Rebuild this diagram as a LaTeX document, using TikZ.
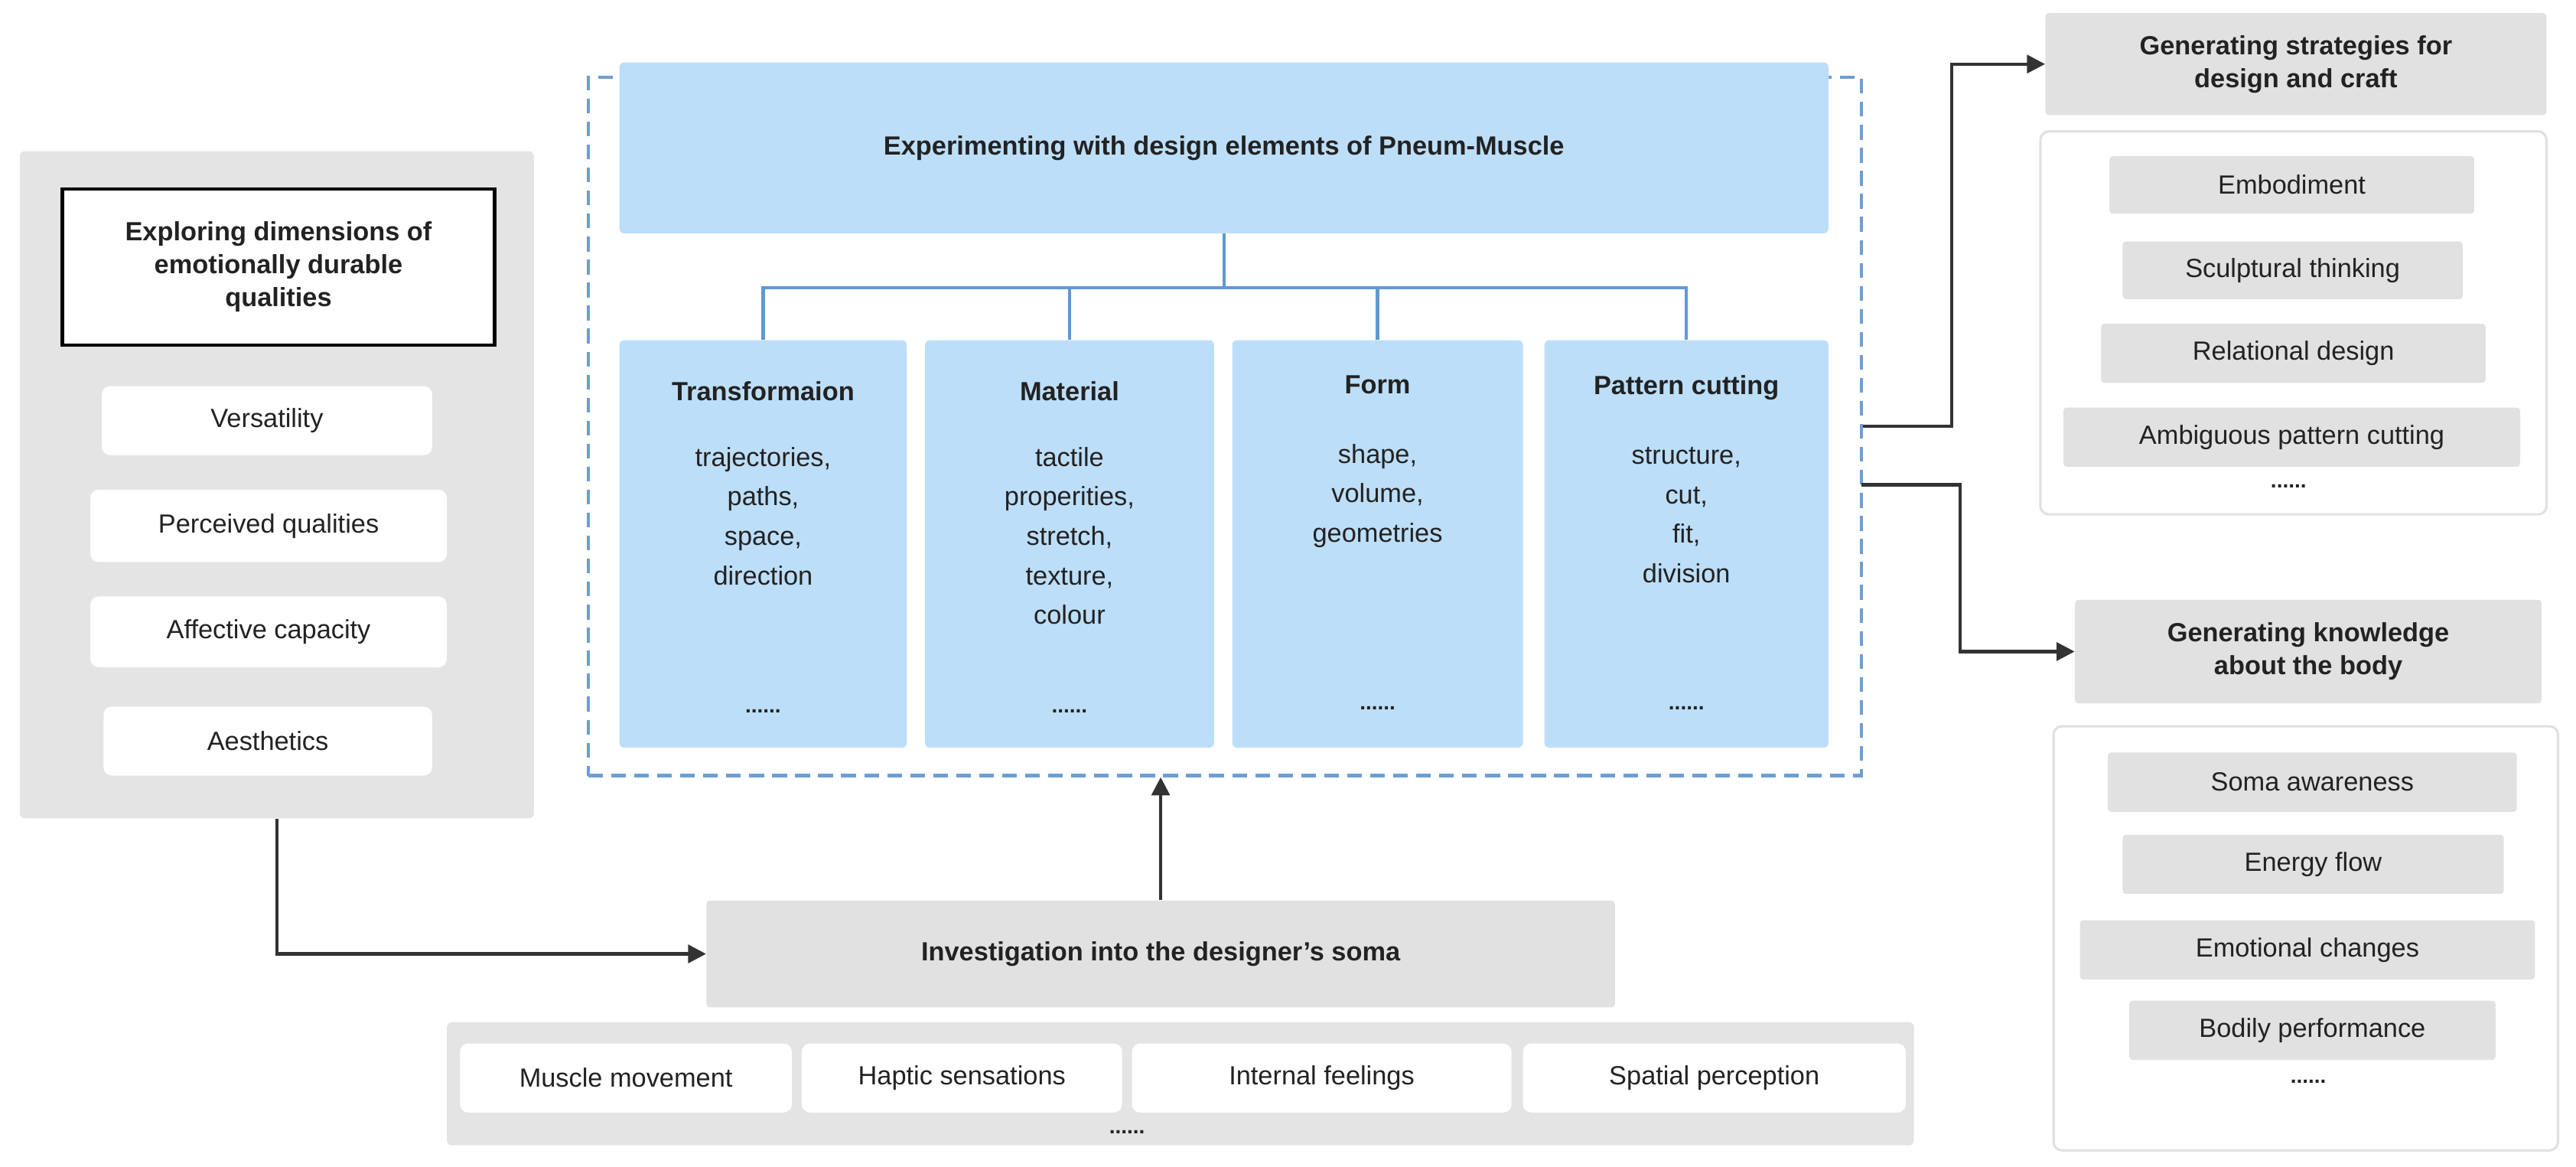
\documentclass[tikz,border=0pt]{standalone}
\usepackage{fontspec}
\setmainfont{Liberation Sans}
\usetikzlibrary{arrows.meta}
\definecolor{gp}{HTML}{E4E4E4}
\definecolor{gi}{HTML}{E1E1E1}
\definecolor{bl}{HTML}{BDDEF8}
\definecolor{db}{HTML}{6D9ED3}
\definecolor{tl}{HTML}{5E9AD2}
\definecolor{ln}{HTML}{333333}
\definecolor{tx}{HTML}{222222}
\begin{document}
\begin{tikzpicture}[x=1pt,y=-1pt,
  every node/.style={font=\fontsize{16}{20}\selectfont,text=tx,align=center,inner sep=0pt},
  panel/.style={fill=gp,draw=none,rounded corners=3pt},
  wi/.style={fill=white,draw=none,rounded corners=5pt},
  wp/.style={fill=white,draw=gi,line width=1.5pt,rounded corners=5pt},
  gb/.style={fill=gi,draw=none,rounded corners=2pt},
  bb/.style={fill=bl,draw=none,rounded corners=3pt},
  bt/.style={font=\fontsize{16}{20}\selectfont\bfseries},
  dots/.style={font=\fontsize{13}{14}\selectfont\bfseries},
  arr/.style={draw=ln,line width=2pt,-{Triangle[length=11pt,width=11pt]}},
  tree/.style={draw=tl,line width=2pt}]
\useasboundingbox (0,0) rectangle (1568,710);
% left
\node[panel,minimum width=313,minimum height=406] (lp) at (168.5,295) {};
\node[fill=white,draw=black,line width=2pt,minimum width=263,minimum height=95,bt] (lt) at (169.5,162.5) {Exploring dimensions of\\emotionally durable\\qualities};
\node[wi,minimum width=201,minimum height=42] (l1) at (162.5,256) {Versatility};
\node[wi,minimum width=217,minimum height=44] (l2) at (163.5,320) {Perceived qualities};
\node[wi,minimum width=217,minimum height=43] (l3) at (163.5,384.5) {Affective capacity};
\node[wi,minimum width=200,minimum height=42] (l4) at (163,451) {Aesthetics};
% center
\node[draw=db,dashed,dash pattern=on 9pt off 5pt,line width=2pt,minimum width=775,minimum height=425] (dash) at (745.5,259.5) {};
\node[bb,minimum width=736,minimum height=104,bt] (top) at (745,90) {Experimenting with design elements of Pneum-Muscle};
\node[bb,minimum width=175,minimum height=248] (b1) at (464.5,331) {};
\node[bb,minimum width=176,minimum height=248] (b2) at (651,331) {};
\node[bb,minimum width=177,minimum height=248] (b3) at (838.5,331) {};
\node[bb,minimum width=173,minimum height=248] (b4) at (1026.5,331) {};
\node[bt] (t1) at (464.5,238) {Transformaion};
\node[bt] (t2) at (651,238) {Material};
\node[bt] (t3) at (838.5,234) {Form};
\node[bt] (t4) at (1026.5,236) {Pattern cutting};
\node[anchor=north,font=\fontsize{16}{24}\selectfont] (c1) at (464.5,272) {trajectories,\\paths,\\space,\\direction};
\node[anchor=north,font=\fontsize{16}{24}\selectfont] (c2) at (651,272) {tactile\\properities,\\stretch,\\texture,\\colour};
\node[anchor=north,font=\fontsize{16}{24}\selectfont] (c3) at (838.5,270) {shape,\\volume,\\geometries};
\node[anchor=north,font=\fontsize{16}{24}\selectfont] (c4) at (1026.5,272) {structure,\\cut,\\fit,\\division};
\node[dots] (d1) at (464.5,433) {......};
\node[dots] (d2) at (651,433) {......};
\node[dots] (d3) at (838.5,431) {......};
\node[dots] (d4) at (1026.5,431) {......};
\coordinate (hy) at (0,175);
\draw[tree] (top.south) -- (top.south |- hy);
\draw[tree] (b1.north) -- (b1.north |- hy) -- (b4.north |- hy) -- (b4.north);
\draw[tree] (b2.north) -- (b2.north |- hy);
\draw[tree] (b3.north) -- (b3.north |- hy);
% bottom
\node[gb,minimum width=553,minimum height=65,bt] (inv) at (706.5,580.5) {Investigation into the designer's soma};
\node[panel,minimum width=893,minimum height=75] (bp) at (718.5,659.5) {};
\node[wi,minimum width=202,minimum height=42] (m1) at (381,656) {Muscle movement};
\node[wi,minimum width=195,minimum height=42] (m2) at (585.5,656) {Haptic sensations};
\node[wi,minimum width=231,minimum height=42] (m3) at (804.5,656) {Internal feelings};
\node[wi,minimum width=233,minimum height=42] (m4) at (1043.5,656) {Spatial perception};
\node[dots] (bd) at (686,689) {......};
% right top
\node[gb,minimum width=305,minimum height=62,bt] (st) at (1397.5,39) {Generating strategies for\\design and craft};
\node[wp,minimum width=308,minimum height=233] (sp) at (1396,196.5) {};
\node[gb,minimum width=222,minimum height=35] (s1) at (1395,112.5) {Embodiment};
\node[gb,minimum width=207,minimum height=35] (s2) at (1395.5,164.5) {Sculptural thinking};
\node[gb,minimum width=234,minimum height=36] (s3) at (1396,215) {Relational design};
\node[gb,minimum width=278,minimum height=36] (s4) at (1395,266) {Ambiguous pattern cutting};
\node[dots] (sd) at (1393,296) {......};
% right bottom
\node[gb,minimum width=284,minimum height=63,bt] (kn) at (1405,396.5) {Generating knowledge\\about the body};
\node[wp,minimum width=307,minimum height=258] (kp) at (1403.5,571) {};
\node[gb,minimum width=249,minimum height=36] (k1) at (1407.5,476) {Soma awareness};
\node[gb,minimum width=232,minimum height=36] (k2) at (1408,526) {Energy flow};
\node[gb,minimum width=277,minimum height=36] (k3) at (1404.5,578) {Emotional changes};
\node[gb,minimum width=223,minimum height=36] (k4) at (1407.5,627) {Bodily performance};
\node[dots] (kd) at (1405,658) {......};
% arrows
\draw[arr] (lp.south) |- (inv.west);
\draw[arr] (inv.north) -- (inv.north |- dash.south);
\draw[arr] (dash.east) -- ++(54,0) |- (st.west);
\coordinate (o2) at (1133,295);
\draw[arr] (o2) -- ++(60,0) |- (kn.west);
\end{tikzpicture}
\end{document}
